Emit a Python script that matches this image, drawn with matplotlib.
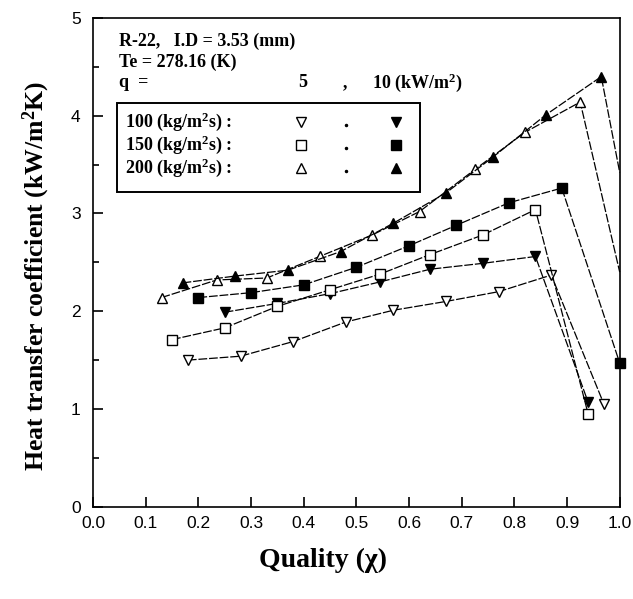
"""Heat transfer coefficient vs quality, R-22 (redrawn)."""

import matplotlib

matplotlib.use("Agg")
import matplotlib.pyplot as plt
from matplotlib.patches import Rectangle
from matplotlib.ticker import MultipleLocator

# G = 100 kg/m2s
x_100_q5 = [0.18, 0.28, 0.38, 0.48, 0.57, 0.67, 0.77, 0.87, 0.97]
h_100_q5 = [1.50, 1.54, 1.69, 1.89, 2.01, 2.10, 2.20, 2.37, 1.05]
x_100_q10 = [0.25, 0.35, 0.45, 0.545, 0.64, 0.74, 0.84, 0.94]
h_100_q10 = [1.99, 2.08, 2.18, 2.30, 2.43, 2.49, 2.56, 1.07]

# G = 150 kg/m2s
x_150_q5 = [0.15, 0.25, 0.35, 0.45, 0.545, 0.64, 0.74, 0.84, 0.94]
h_150_q5 = [1.71, 1.83, 2.05, 2.22, 2.38, 2.58, 2.78, 3.04, 0.95]
x_150_q10 = [0.20, 0.30, 0.40, 0.50, 0.60, 0.69, 0.79, 0.89, 1.00]
h_150_q10 = [2.14, 2.19, 2.27, 2.45, 2.67, 2.88, 3.11, 3.26, 1.47]

# G = 200 kg/m2s (last point sits on the right axis, drawn without marker)
x_200_q5 = [0.13, 0.235, 0.33, 0.43, 0.53, 0.62, 0.725, 0.82, 0.925, 1.00]
h_200_q5 = [2.14, 2.32, 2.34, 2.56, 2.78, 3.02, 3.45, 3.83, 4.14, 2.40]
x_200_q10 = [0.17, 0.27, 0.37, 0.47, 0.57, 0.67, 0.76, 0.86, 0.965, 1.00]
h_200_q10 = [2.29, 2.36, 2.42, 2.61, 2.90, 3.21, 3.58, 4.01, 4.40, 3.42]

mass_flux_labels = ["100 (kg/m$^2$s) :", "150 (kg/m$^2$s) :", "200 (kg/m$^2$s) :"]
x_ticks = [0.0, 0.1, 0.2, 0.3, 0.4, 0.5, 0.6, 0.7, 0.8, 0.9, 1.0]

SERIF = "Liberation Serif"
SANS = "Liberation Sans"

plt.rcParams["mathtext.fontset"] = "custom"
plt.rcParams["mathtext.rm"] = SERIF + ":bold"
plt.rcParams["mathtext.it"] = SERIF + ":italic:bold"
plt.rcParams["mathtext.bf"] = SERIF + ":bold"
plt.rcParams["mathtext.default"] = "rm"

fig = plt.figure(figsize=(6.33, 5.99), dpi=100)
ax = fig.add_axes([0.147, 0.154, 0.832, 0.816])

line_kw = dict(color="black", lw=0.9, ls=(0, (7, 1.5)), markersize=7,
               markeredgewidth=1.0, markeredgecolor="black", clip_on=False)

series = [
    (x_100_q5, h_100_q5, "v", "white", None),
    (x_100_q10, h_100_q10, "v", "black", None),
    (x_150_q5, h_150_q5, "s", "white", None),
    (x_150_q10, h_150_q10, "s", "black", None),
    (x_200_q5, h_200_q5, "^", "white", list(range(len(x_200_q5) - 1))),
    (x_200_q10, h_200_q10, "^", "black", list(range(len(x_200_q10) - 1))),
]
for xs, hs, marker, face, every in series:
    ax.plot(xs, hs, marker=marker, markerfacecolor=face, markevery=every, **line_kw)

ax.set_xlim(0, 1.0)
ax.set_ylim(0, 5)
ax.set_xticks(x_ticks)
ax.set_xticklabels([f"{v:.1f}" for v in x_ticks], fontname=SANS, fontsize=12.5)
ax.yaxis.set_major_locator(MultipleLocator(1))
ax.yaxis.set_minor_locator(MultipleLocator(0.5))
for lab in ax.get_yticklabels():
    lab.set_fontname(SANS)
    lab.set_fontsize(12.5)
ax.tick_params(which="both", direction="in", top=False, right=False, width=1.2)
ax.tick_params(which="major", length=7)
ax.tick_params(which="minor", length=4)
ax.tick_params(axis="x", pad=7)
ax.tick_params(axis="y", pad=9)
for sp in ax.spines.values():
    sp.set_linewidth(1.2)

ax.set_xlabel("Quality (\u03c7)", fontname=SERIF, fontweight="bold", fontsize=20)
ax.xaxis.set_label_coords(0.437, -0.085)
ax.set_ylabel("Heat transfer coefficient (kW/m$^2$K)", fontname=SERIF,
              fontweight="bold", fontsize=18.5)
ax.yaxis.set_label_coords(-0.078, 0.472)

txt = dict(fontname=SERIF, fontweight="bold", fontsize=13, transform=ax.transAxes,
           va="center")
ax.text(0.05, 0.952, "R-22,   I.D = 3.53 (mm)", **txt)
ax.text(0.05, 0.910, "Te = 278.16 (K)", **txt)
ax.text(0.05, 0.868, "q  =", **txt)
ax.text(0.39, 0.868, "5", **txt)
ax.text(0.475, 0.868, ",", **txt)
ax.text(0.53, 0.868, "10 (kW/m$^2$)", **txt)

ax.add_patch(Rectangle((0.045, 0.644), 0.575, 0.182, transform=ax.transAxes,
                       fill=False, edgecolor="black", lw=1.4))
rows_y = [0.787, 0.740, 0.693]
for label, yy, mk in zip(mass_flux_labels, rows_y, ["v", "s", "^"]):
    ax.text(0.06, yy, label, **txt)
    ax.plot([0.395], [yy], marker=mk, markersize=7, markerfacecolor="white",
            markeredgecolor="black", transform=ax.transAxes, clip_on=False)
    ax.plot([0.48], [yy - 0.006], marker=".", markersize=3, color="black",
            transform=ax.transAxes, clip_on=False)
    ax.plot([0.575], [yy], marker=mk, markersize=7, markerfacecolor="black",
            markeredgecolor="black", transform=ax.transAxes, clip_on=False)

fig.savefig("out.png", dpi=100)
